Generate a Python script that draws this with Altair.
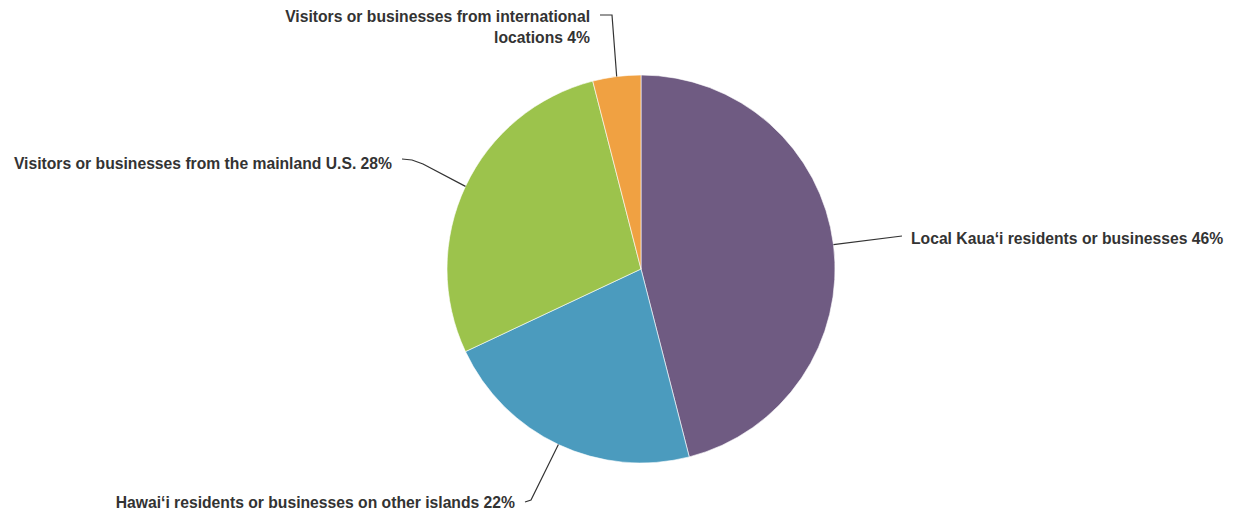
import math
import altair as alt
import pandas as pd

# ---- data ----
categories = [
    "Local Kaua‘i residents or businesses",
    "Hawai‘i residents or businesses on other islands",
    "Visitors or businesses from the mainland U.S.",
    "Visitors or businesses from international locations",
]
values = [46, 22, 28, 4]
label_texts = [
    "Local Kaua‘i residents or businesses 46%",
    "Hawai‘i residents or businesses on other islands 22%",
    "Visitors or businesses from the mainland U.S. 28%",
    "Visitors or businesses from international\nlocations 4%",
]
colors = ["#6f5b82", "#4b9bbe", "#9cc34c", "#f0a142"]

# ---- layout (pixels relative to pie centre, y downwards; text y = baseline) ----
R = 194
label_align = ["left", "right", "right", "right"]
label_pos = [(270, -25), (-126, 239), (-249, -100), (-51, -247)]
leader_bends = [
    [(261, -33)],
    [(-110, 231), (-116, 233)],
    [(-218, -105), (-229, -109), (-239, -110)],
    [(-29, -254), (-41, -254)],
]

pie_df = pd.DataFrame({"category": categories, "value": values, "idx": range(len(values))})

total = sum(values)
rows = []
cum = 0
for i, v in enumerate(values):
    mid = (cum + v / 2) / total * 2 * math.pi
    cum += v
    pts = [(R * math.sin(mid), -R * math.cos(mid))] + leader_bends[i]
    for s, (px, py) in enumerate(pts):
        rows.append({"key": categories[i], "seq": s, "x": px, "y": py})
lead_df = pd.DataFrame(rows)

lab_df = pd.DataFrame({
    "label": label_texts,
    "x": [p[0] for p in label_pos],
    "y": [p[1] for p in label_pos],
    "align": label_align,
})

xs = alt.Scale(domain=[-R, R], nice=False, zero=False)
ys = alt.Scale(domain=[-R, R], nice=False, zero=False, reverse=True)

pie = alt.Chart(pie_df).mark_arc(outerRadius=R, stroke="#ffffff", strokeWidth=0.6).encode(
    theta=alt.Theta("value:Q", stack=True),
    color=alt.Color("category:N", scale=alt.Scale(domain=categories, range=colors), legend=None),
    order=alt.Order("idx:Q"),
)

leaders = alt.Chart(lead_df).mark_line(color="#333333", strokeWidth=1.2).encode(
    x=alt.X("x:Q", scale=xs, axis=None),
    y=alt.Y("y:Q", scale=ys, axis=None),
    detail="key:N",
    order="seq:Q",
)

text_common = dict(font="Liberation Sans", fontSize=15.7, fontWeight="bold", color="#333333",
                   baseline="alphabetic", lineBreak="\n", lineHeight=21)

text_right = alt.Chart(lab_df).transform_filter(alt.datum.align == "right").mark_text(align="right", **text_common).encode(
    x=alt.X("x:Q", scale=xs, axis=None),
    y=alt.Y("y:Q", scale=ys, axis=None),
    text="label:N",
)
text_left = alt.Chart(lab_df).transform_filter(alt.datum.align == "left").mark_text(align="left", **text_common).encode(
    x=alt.X("x:Q", scale=xs, axis=None),
    y=alt.Y("y:Q", scale=ys, axis=None),
    text="label:N",
)

chart = alt.layer(pie, leaders, text_right, text_left).properties(
    width=2 * R,
    height=2 * R,
    padding={"left": 439, "top": 67, "right": 392, "bottom": 50},
    autosize=alt.AutoSizeParams(type="none"),
    background="#ffffff",
).configure_view(stroke=None)

chart.save("out.html", embed_options={"renderer": "svg", "actions": False})
